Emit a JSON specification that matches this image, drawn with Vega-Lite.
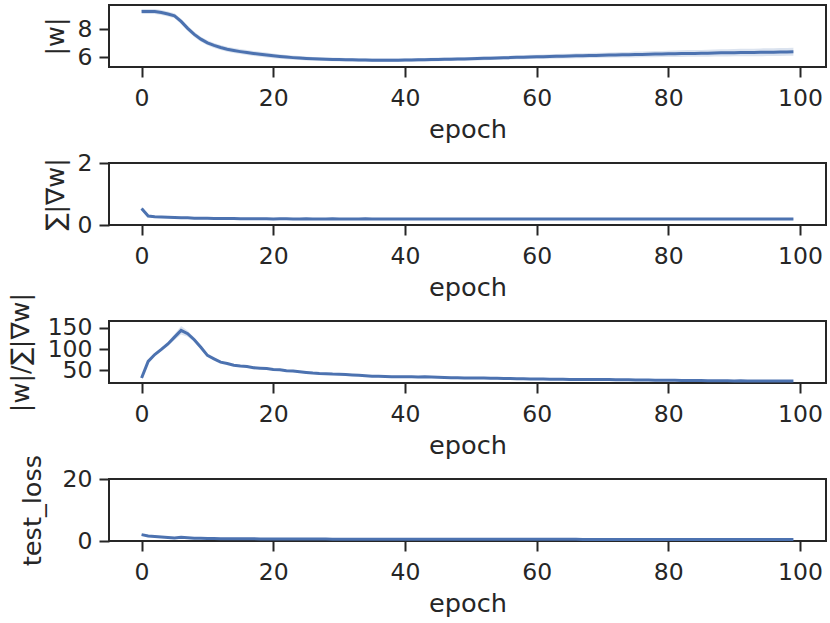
{
  "$schema": "https://vega.github.io/schema/vega-lite/v6.json",
  "background": "white",
  "padding": {"left": 6, "top": 4, "right": 4, "bottom": 4},
  "bounds": "flush",
  "spacing": 96,
  "data": {
    "values": [
      {"epoch": 0, "w": 9.25, "wl": 9.07, "wh": 9.43, "g": 0.53, "gl": 0.49, "gh": 0.57, "r": 31.8, "rl": 29.8, "rh": 33.8, "t": 2.05, "tl": 1.85, "th": 2.25},
      {"epoch": 1, "w": 9.26, "wl": 9.08, "wh": 9.44, "g": 0.29, "gl": 0.27, "gh": 0.31, "r": 71, "rl": 68, "rh": 74, "t": 1.6, "tl": 1.45, "th": 1.75},
      {"epoch": 2, "w": 9.25, "wl": 9.07, "wh": 9.43, "g": 0.27, "gl": 0.25, "gh": 0.29, "r": 87, "rl": 84, "rh": 90, "t": 1.45, "tl": 1.3, "th": 1.6},
      {"epoch": 3, "w": 9.18, "wl": 9.0, "wh": 9.36, "g": 0.26, "gl": 0.24, "gh": 0.28, "r": 99, "rl": 95, "rh": 103, "t": 1.3, "tl": 1.15, "th": 1.45},
      {"epoch": 4, "w": 9.08, "wl": 8.9, "wh": 9.26, "g": 0.25, "gl": 0.23, "gh": 0.27, "r": 112, "rl": 107, "rh": 117, "t": 1.15, "tl": 1.0, "th": 1.3},
      {"epoch": 5, "w": 8.95, "wl": 8.77, "wh": 9.13, "g": 0.24, "gl": 0.22, "gh": 0.26, "r": 128, "rl": 121, "rh": 135, "t": 1.0, "tl": 0.85, "th": 1.15},
      {"epoch": 6, "w": 8.55, "wl": 8.37, "wh": 8.73, "g": 0.23, "gl": 0.21, "gh": 0.25, "r": 144, "rl": 134, "rh": 154, "t": 1.2, "tl": 1.05, "th": 1.35},
      {"epoch": 7, "w": 8.05, "wl": 7.87, "wh": 8.23, "g": 0.23, "gl": 0.21, "gh": 0.25, "r": 136, "rl": 129, "rh": 143, "t": 1.05, "tl": 0.9, "th": 1.2},
      {"epoch": 8, "w": 7.62, "wl": 7.44, "wh": 7.8, "g": 0.22, "gl": 0.2, "gh": 0.24, "r": 122, "rl": 117, "rh": 127, "t": 0.9, "tl": 0.78, "th": 1.02},
      {"epoch": 9, "w": 7.28, "wl": 7.1, "wh": 7.46, "g": 0.22, "gl": 0.2, "gh": 0.24, "r": 104, "rl": 100, "rh": 108, "t": 0.85, "tl": 0.73, "th": 0.97},
      {"epoch": 10, "w": 7.02, "wl": 6.84, "wh": 7.2, "g": 0.22, "gl": 0.2, "gh": 0.24, "r": 85, "rl": 82, "rh": 88, "t": 0.8, "tl": 0.7, "th": 0.9},
      {"epoch": 11, "w": 6.83, "wl": 6.65, "wh": 7.01, "g": 0.21, "gl": 0.19, "gh": 0.23, "r": 77, "rl": 75, "rh": 79, "t": 0.78, "tl": 0.68, "th": 0.88},
      {"epoch": 12, "w": 6.68, "wl": 6.5, "wh": 6.86, "g": 0.21, "gl": 0.19, "gh": 0.23, "r": 69, "rl": 67, "rh": 71, "t": 0.76, "tl": 0.66, "th": 0.86},
      {"epoch": 13, "w": 6.56, "wl": 6.38, "wh": 6.74, "g": 0.21, "gl": 0.19, "gh": 0.23, "r": 66, "rl": 64, "rh": 68, "t": 0.74, "tl": 0.64, "th": 0.84},
      {"epoch": 14, "w": 6.47, "wl": 6.29, "wh": 6.65, "g": 0.21, "gl": 0.19, "gh": 0.23, "r": 62, "rl": 60, "rh": 64, "t": 0.72, "tl": 0.62, "th": 0.82},
      {"epoch": 15, "w": 6.39, "wl": 6.21, "wh": 6.57, "g": 0.2, "gl": 0.18, "gh": 0.22, "r": 60, "rl": 58, "rh": 62, "t": 0.71, "tl": 0.61, "th": 0.81},
      {"epoch": 16, "w": 6.32, "wl": 6.14, "wh": 6.5, "g": 0.2, "gl": 0.18, "gh": 0.22, "r": 59, "rl": 57, "rh": 61, "t": 0.7, "tl": 0.6, "th": 0.8},
      {"epoch": 17, "w": 6.26, "wl": 6.08, "wh": 6.44, "g": 0.2, "gl": 0.18, "gh": 0.22, "r": 56, "rl": 54, "rh": 58, "t": 0.69, "tl": 0.59, "th": 0.79},
      {"epoch": 18, "w": 6.2, "wl": 6.02, "wh": 6.38, "g": 0.2, "gl": 0.18, "gh": 0.22, "r": 55, "rl": 53, "rh": 57, "t": 0.68, "tl": 0.58, "th": 0.78},
      {"epoch": 19, "w": 6.14, "wl": 5.96, "wh": 6.32, "g": 0.2, "gl": 0.18, "gh": 0.22, "r": 54, "rl": 52, "rh": 56, "t": 0.67, "tl": 0.57, "th": 0.77},
      {"epoch": 20, "w": 6.09, "wl": 5.92, "wh": 6.26, "g": 0.19, "gl": 0.17, "gh": 0.21, "r": 52, "rl": 50, "rh": 54, "t": 0.66, "tl": 0.56, "th": 0.76},
      {"epoch": 21, "w": 6.04, "wl": 5.88, "wh": 6.2, "g": 0.2, "gl": 0.18, "gh": 0.22, "r": 51, "rl": 49.5, "rh": 52.5, "t": 0.65, "tl": 0.55, "th": 0.75},
      {"epoch": 22, "w": 6.0, "wl": 5.85, "wh": 6.15, "g": 0.2, "gl": 0.18, "gh": 0.22, "r": 49, "rl": 47.5, "rh": 50.5, "t": 0.64, "tl": 0.54, "th": 0.74},
      {"epoch": 23, "w": 5.96, "wl": 5.81, "wh": 6.11, "g": 0.19, "gl": 0.17, "gh": 0.21, "r": 48, "rl": 46.5, "rh": 49.5, "t": 0.64, "tl": 0.54, "th": 0.74},
      {"epoch": 24, "w": 5.93, "wl": 5.79, "wh": 6.07, "g": 0.19, "gl": 0.17, "gh": 0.21, "r": 46.5, "rl": 45, "rh": 48, "t": 0.63, "tl": 0.53, "th": 0.73},
      {"epoch": 25, "w": 5.9, "wl": 5.76, "wh": 6.04, "g": 0.2, "gl": 0.18, "gh": 0.22, "r": 45, "rl": 43.5, "rh": 46.5, "t": 0.62, "tl": 0.52, "th": 0.72},
      {"epoch": 26, "w": 5.88, "wl": 5.75, "wh": 6.01, "g": 0.19, "gl": 0.17, "gh": 0.21, "r": 43.5, "rl": 42, "rh": 45, "t": 0.62, "tl": 0.52, "th": 0.72},
      {"epoch": 27, "w": 5.86, "wl": 5.73, "wh": 5.99, "g": 0.19, "gl": 0.17, "gh": 0.21, "r": 42.5, "rl": 41, "rh": 44, "t": 0.61, "tl": 0.51, "th": 0.71},
      {"epoch": 28, "w": 5.84, "wl": 5.71, "wh": 5.97, "g": 0.19, "gl": 0.17, "gh": 0.21, "r": 42, "rl": 40.5, "rh": 43.5, "t": 0.61, "tl": 0.51, "th": 0.71},
      {"epoch": 29, "w": 5.83, "wl": 5.7, "wh": 5.96, "g": 0.2, "gl": 0.18, "gh": 0.22, "r": 41, "rl": 39.5, "rh": 42.5, "t": 0.6, "tl": 0.5, "th": 0.7},
      {"epoch": 30, "w": 5.82, "wl": 5.69, "wh": 5.95, "g": 0.19, "gl": 0.17, "gh": 0.21, "r": 40.5, "rl": 39, "rh": 42, "t": 0.6, "tl": 0.5, "th": 0.7},
      {"epoch": 31, "w": 5.81, "wl": 5.68, "wh": 5.94, "g": 0.19, "gl": 0.17, "gh": 0.21, "r": 40, "rl": 38.5, "rh": 41.5, "t": 0.6, "tl": 0.5, "th": 0.7},
      {"epoch": 32, "w": 5.8, "wl": 5.67, "wh": 5.93, "g": 0.19, "gl": 0.17, "gh": 0.21, "r": 39, "rl": 37.5, "rh": 40.5, "t": 0.59, "tl": 0.49, "th": 0.69},
      {"epoch": 33, "w": 5.79, "wl": 5.66, "wh": 5.92, "g": 0.19, "gl": 0.17, "gh": 0.21, "r": 38, "rl": 36.5, "rh": 39.5, "t": 0.59, "tl": 0.49, "th": 0.69},
      {"epoch": 34, "w": 5.79, "wl": 5.66, "wh": 5.92, "g": 0.2, "gl": 0.18, "gh": 0.22, "r": 37, "rl": 35.5, "rh": 38.5, "t": 0.59, "tl": 0.49, "th": 0.69},
      {"epoch": 35, "w": 5.78, "wl": 5.65, "wh": 5.91, "g": 0.19, "gl": 0.17, "gh": 0.21, "r": 36, "rl": 34.5, "rh": 37.5, "t": 0.58, "tl": 0.48, "th": 0.68},
      {"epoch": 36, "w": 5.78, "wl": 5.65, "wh": 5.91, "g": 0.19, "gl": 0.17, "gh": 0.21, "r": 36, "rl": 34.5, "rh": 37.5, "t": 0.58, "tl": 0.48, "th": 0.68},
      {"epoch": 37, "w": 5.78, "wl": 5.65, "wh": 5.91, "g": 0.19, "gl": 0.17, "gh": 0.21, "r": 35.5, "rl": 34, "rh": 37, "t": 0.58, "tl": 0.48, "th": 0.68},
      {"epoch": 38, "w": 5.78, "wl": 5.65, "wh": 5.91, "g": 0.19, "gl": 0.17, "gh": 0.21, "r": 35, "rl": 33.5, "rh": 36.5, "t": 0.58, "tl": 0.48, "th": 0.68},
      {"epoch": 39, "w": 5.78, "wl": 5.65, "wh": 5.91, "g": 0.19, "gl": 0.17, "gh": 0.21, "r": 35, "rl": 33.5, "rh": 36.5, "t": 0.57, "tl": 0.47, "th": 0.67},
      {"epoch": 40, "w": 5.79, "wl": 5.66, "wh": 5.92, "g": 0.19, "gl": 0.17, "gh": 0.21, "r": 34.5, "rl": 33, "rh": 36, "t": 0.57, "tl": 0.47, "th": 0.67},
      {"epoch": 41, "w": 5.79, "wl": 5.66, "wh": 5.92, "g": 0.19, "gl": 0.17, "gh": 0.21, "r": 34.5, "rl": 33, "rh": 36, "t": 0.57, "tl": 0.47, "th": 0.67},
      {"epoch": 42, "w": 5.8, "wl": 5.67, "wh": 5.93, "g": 0.19, "gl": 0.17, "gh": 0.21, "r": 34, "rl": 32.5, "rh": 35.5, "t": 0.57, "tl": 0.47, "th": 0.67},
      {"epoch": 43, "w": 5.81, "wl": 5.68, "wh": 5.94, "g": 0.19, "gl": 0.17, "gh": 0.21, "r": 34.5, "rl": 33, "rh": 36, "t": 0.56, "tl": 0.46, "th": 0.66},
      {"epoch": 44, "w": 5.82, "wl": 5.69, "wh": 5.95, "g": 0.19, "gl": 0.17, "gh": 0.21, "r": 34, "rl": 32.5, "rh": 35.5, "t": 0.56, "tl": 0.46, "th": 0.66},
      {"epoch": 45, "w": 5.83, "wl": 5.7, "wh": 5.96, "g": 0.19, "gl": 0.17, "gh": 0.21, "r": 33.5, "rl": 32, "rh": 35, "t": 0.56, "tl": 0.46, "th": 0.66},
      {"epoch": 46, "w": 5.84, "wl": 5.71, "wh": 5.97, "g": 0.19, "gl": 0.17, "gh": 0.21, "r": 33, "rl": 31.5, "rh": 34.5, "t": 0.56, "tl": 0.46, "th": 0.66},
      {"epoch": 47, "w": 5.85, "wl": 5.72, "wh": 5.98, "g": 0.19, "gl": 0.17, "gh": 0.21, "r": 32.5, "rl": 31, "rh": 34, "t": 0.56, "tl": 0.46, "th": 0.66},
      {"epoch": 48, "w": 5.86, "wl": 5.73, "wh": 5.99, "g": 0.19, "gl": 0.17, "gh": 0.21, "r": 32.5, "rl": 31, "rh": 34, "t": 0.55, "tl": 0.45, "th": 0.65},
      {"epoch": 49, "w": 5.87, "wl": 5.74, "wh": 6.0, "g": 0.19, "gl": 0.17, "gh": 0.21, "r": 32, "rl": 30.5, "rh": 33.5, "t": 0.55, "tl": 0.45, "th": 0.65},
      {"epoch": 50, "w": 5.88, "wl": 5.75, "wh": 6.01, "g": 0.19, "gl": 0.17, "gh": 0.21, "r": 32, "rl": 30.5, "rh": 33.5, "t": 0.55, "tl": 0.45, "th": 0.65},
      {"epoch": 51, "w": 5.89, "wl": 5.76, "wh": 6.02, "g": 0.19, "gl": 0.17, "gh": 0.21, "r": 31.5, "rl": 30, "rh": 33, "t": 0.55, "tl": 0.45, "th": 0.65},
      {"epoch": 52, "w": 5.91, "wl": 5.78, "wh": 6.04, "g": 0.19, "gl": 0.17, "gh": 0.21, "r": 31.5, "rl": 30, "rh": 33, "t": 0.55, "tl": 0.45, "th": 0.65},
      {"epoch": 53, "w": 5.92, "wl": 5.79, "wh": 6.05, "g": 0.19, "gl": 0.17, "gh": 0.21, "r": 31, "rl": 29.5, "rh": 32.5, "t": 0.55, "tl": 0.45, "th": 0.65},
      {"epoch": 54, "w": 5.93, "wl": 5.8, "wh": 6.06, "g": 0.19, "gl": 0.17, "gh": 0.21, "r": 31, "rl": 29.5, "rh": 32.5, "t": 0.54, "tl": 0.44, "th": 0.64},
      {"epoch": 55, "w": 5.95, "wl": 5.82, "wh": 6.08, "g": 0.19, "gl": 0.17, "gh": 0.21, "r": 30.5, "rl": 29, "rh": 32, "t": 0.54, "tl": 0.44, "th": 0.64},
      {"epoch": 56, "w": 5.96, "wl": 5.83, "wh": 6.09, "g": 0.19, "gl": 0.17, "gh": 0.21, "r": 30.5, "rl": 29, "rh": 32, "t": 0.54, "tl": 0.44, "th": 0.64},
      {"epoch": 57, "w": 5.98, "wl": 5.84, "wh": 6.12, "g": 0.19, "gl": 0.17, "gh": 0.21, "r": 30, "rl": 28.5, "rh": 31.5, "t": 0.54, "tl": 0.44, "th": 0.64},
      {"epoch": 58, "w": 5.99, "wl": 5.85, "wh": 6.13, "g": 0.19, "gl": 0.17, "gh": 0.21, "r": 30, "rl": 28.5, "rh": 31.5, "t": 0.54, "tl": 0.44, "th": 0.64},
      {"epoch": 59, "w": 6.01, "wl": 5.86, "wh": 6.16, "g": 0.19, "gl": 0.17, "gh": 0.21, "r": 29.5, "rl": 28, "rh": 31, "t": 0.54, "tl": 0.44, "th": 0.64},
      {"epoch": 60, "w": 6.02, "wl": 5.87, "wh": 6.17, "g": 0.19, "gl": 0.17, "gh": 0.21, "r": 29.5, "rl": 28, "rh": 31, "t": 0.53, "tl": 0.43, "th": 0.63},
      {"epoch": 61, "w": 6.03, "wl": 5.87, "wh": 6.19, "g": 0.19, "gl": 0.17, "gh": 0.21, "r": 29.5, "rl": 28, "rh": 31, "t": 0.53, "tl": 0.43, "th": 0.63},
      {"epoch": 62, "w": 6.04, "wl": 5.88, "wh": 6.2, "g": 0.19, "gl": 0.17, "gh": 0.21, "r": 29, "rl": 27.5, "rh": 30.5, "t": 0.53, "tl": 0.43, "th": 0.63},
      {"epoch": 63, "w": 6.05, "wl": 5.88, "wh": 6.22, "g": 0.19, "gl": 0.17, "gh": 0.21, "r": 29, "rl": 27.5, "rh": 30.5, "t": 0.53, "tl": 0.43, "th": 0.63},
      {"epoch": 64, "w": 6.06, "wl": 5.89, "wh": 6.23, "g": 0.19, "gl": 0.17, "gh": 0.21, "r": 29, "rl": 27.5, "rh": 30.5, "t": 0.53, "tl": 0.43, "th": 0.63},
      {"epoch": 65, "w": 6.07, "wl": 5.9, "wh": 6.24, "g": 0.19, "gl": 0.17, "gh": 0.21, "r": 28.5, "rl": 27, "rh": 30, "t": 0.53, "tl": 0.43, "th": 0.63},
      {"epoch": 66, "w": 6.09, "wl": 5.91, "wh": 6.27, "g": 0.19, "gl": 0.17, "gh": 0.21, "r": 28.5, "rl": 27, "rh": 30, "t": 0.53, "tl": 0.43, "th": 0.63},
      {"epoch": 67, "w": 6.1, "wl": 5.92, "wh": 6.28, "g": 0.19, "gl": 0.17, "gh": 0.21, "r": 28.5, "rl": 27, "rh": 30, "t": 0.52, "tl": 0.42, "th": 0.62},
      {"epoch": 68, "w": 6.11, "wl": 5.93, "wh": 6.29, "g": 0.19, "gl": 0.17, "gh": 0.21, "r": 28, "rl": 26.5, "rh": 29.5, "t": 0.52, "tl": 0.42, "th": 0.62},
      {"epoch": 69, "w": 6.12, "wl": 5.94, "wh": 6.3, "g": 0.19, "gl": 0.17, "gh": 0.21, "r": 28, "rl": 26.5, "rh": 29.5, "t": 0.52, "tl": 0.42, "th": 0.62},
      {"epoch": 70, "w": 6.13, "wl": 5.95, "wh": 6.31, "g": 0.19, "gl": 0.17, "gh": 0.21, "r": 28, "rl": 26.5, "rh": 29.5, "t": 0.52, "tl": 0.42, "th": 0.62},
      {"epoch": 71, "w": 6.14, "wl": 5.95, "wh": 6.33, "g": 0.19, "gl": 0.17, "gh": 0.21, "r": 28, "rl": 26.5, "rh": 29.5, "t": 0.52, "tl": 0.42, "th": 0.62},
      {"epoch": 72, "w": 6.15, "wl": 5.96, "wh": 6.34, "g": 0.19, "gl": 0.17, "gh": 0.21, "r": 27.5, "rl": 26, "rh": 29, "t": 0.52, "tl": 0.42, "th": 0.62},
      {"epoch": 73, "w": 6.16, "wl": 5.96, "wh": 6.36, "g": 0.19, "gl": 0.17, "gh": 0.21, "r": 27.5, "rl": 26, "rh": 29, "t": 0.52, "tl": 0.42, "th": 0.62},
      {"epoch": 74, "w": 6.17, "wl": 5.97, "wh": 6.37, "g": 0.19, "gl": 0.17, "gh": 0.21, "r": 27.5, "rl": 26, "rh": 29, "t": 0.52, "tl": 0.42, "th": 0.62},
      {"epoch": 75, "w": 6.18, "wl": 5.97, "wh": 6.39, "g": 0.19, "gl": 0.17, "gh": 0.21, "r": 27, "rl": 25.5, "rh": 28.5, "t": 0.51, "tl": 0.41, "th": 0.61},
      {"epoch": 76, "w": 6.19, "wl": 5.98, "wh": 6.4, "g": 0.19, "gl": 0.17, "gh": 0.21, "r": 27, "rl": 25.5, "rh": 28.5, "t": 0.51, "tl": 0.41, "th": 0.61},
      {"epoch": 77, "w": 6.2, "wl": 5.98, "wh": 6.42, "g": 0.19, "gl": 0.17, "gh": 0.21, "r": 27, "rl": 25.5, "rh": 28.5, "t": 0.51, "tl": 0.41, "th": 0.61},
      {"epoch": 78, "w": 6.21, "wl": 5.99, "wh": 6.43, "g": 0.19, "gl": 0.17, "gh": 0.21, "r": 26.5, "rl": 25, "rh": 28, "t": 0.51, "tl": 0.41, "th": 0.61},
      {"epoch": 79, "w": 6.22, "wl": 6.0, "wh": 6.44, "g": 0.19, "gl": 0.17, "gh": 0.21, "r": 26.5, "rl": 25, "rh": 28, "t": 0.51, "tl": 0.41, "th": 0.61},
      {"epoch": 80, "w": 6.23, "wl": 6.0, "wh": 6.46, "g": 0.19, "gl": 0.17, "gh": 0.21, "r": 26.5, "rl": 25, "rh": 28, "t": 0.51, "tl": 0.41, "th": 0.61},
      {"epoch": 81, "w": 6.24, "wl": 6.01, "wh": 6.47, "g": 0.19, "gl": 0.17, "gh": 0.21, "r": 26.5, "rl": 25, "rh": 28, "t": 0.51, "tl": 0.41, "th": 0.61},
      {"epoch": 82, "w": 6.25, "wl": 6.01, "wh": 6.49, "g": 0.19, "gl": 0.17, "gh": 0.21, "r": 26, "rl": 24.5, "rh": 27.5, "t": 0.51, "tl": 0.41, "th": 0.61},
      {"epoch": 83, "w": 6.26, "wl": 6.02, "wh": 6.5, "g": 0.19, "gl": 0.17, "gh": 0.21, "r": 26, "rl": 24.5, "rh": 27.5, "t": 0.51, "tl": 0.41, "th": 0.61},
      {"epoch": 84, "w": 6.26, "wl": 6.02, "wh": 6.5, "g": 0.19, "gl": 0.17, "gh": 0.21, "r": 26, "rl": 24.5, "rh": 27.5, "t": 0.5, "tl": 0.4, "th": 0.6},
      {"epoch": 85, "w": 6.27, "wl": 6.03, "wh": 6.51, "g": 0.19, "gl": 0.17, "gh": 0.21, "r": 26, "rl": 24.5, "rh": 27.5, "t": 0.5, "tl": 0.4, "th": 0.6},
      {"epoch": 86, "w": 6.28, "wl": 6.03, "wh": 6.53, "g": 0.19, "gl": 0.17, "gh": 0.21, "r": 25.5, "rl": 24, "rh": 27, "t": 0.5, "tl": 0.4, "th": 0.6},
      {"epoch": 87, "w": 6.29, "wl": 6.04, "wh": 6.54, "g": 0.19, "gl": 0.17, "gh": 0.21, "r": 25.5, "rl": 24, "rh": 27, "t": 0.5, "tl": 0.4, "th": 0.6},
      {"epoch": 88, "w": 6.3, "wl": 6.04, "wh": 6.56, "g": 0.19, "gl": 0.17, "gh": 0.21, "r": 25.5, "rl": 24, "rh": 27, "t": 0.5, "tl": 0.4, "th": 0.6},
      {"epoch": 89, "w": 6.3, "wl": 6.04, "wh": 6.56, "g": 0.19, "gl": 0.17, "gh": 0.21, "r": 25.5, "rl": 24, "rh": 27, "t": 0.5, "tl": 0.4, "th": 0.6},
      {"epoch": 90, "w": 6.31, "wl": 6.05, "wh": 6.57, "g": 0.19, "gl": 0.17, "gh": 0.21, "r": 25, "rl": 23.5, "rh": 26.5, "t": 0.5, "tl": 0.4, "th": 0.6},
      {"epoch": 91, "w": 6.32, "wl": 6.05, "wh": 6.59, "g": 0.19, "gl": 0.17, "gh": 0.21, "r": 25.5, "rl": 24, "rh": 27, "t": 0.5, "tl": 0.4, "th": 0.6},
      {"epoch": 92, "w": 6.33, "wl": 6.06, "wh": 6.6, "g": 0.19, "gl": 0.17, "gh": 0.21, "r": 25, "rl": 23.5, "rh": 26.5, "t": 0.5, "tl": 0.4, "th": 0.6},
      {"epoch": 93, "w": 6.33, "wl": 6.06, "wh": 6.6, "g": 0.19, "gl": 0.17, "gh": 0.21, "r": 25, "rl": 23.5, "rh": 26.5, "t": 0.5, "tl": 0.4, "th": 0.6},
      {"epoch": 94, "w": 6.34, "wl": 6.06, "wh": 6.62, "g": 0.19, "gl": 0.17, "gh": 0.21, "r": 24.5, "rl": 23, "rh": 26, "t": 0.49, "tl": 0.39, "th": 0.59},
      {"epoch": 95, "w": 6.35, "wl": 6.07, "wh": 6.63, "g": 0.19, "gl": 0.17, "gh": 0.21, "r": 25, "rl": 23.5, "rh": 26.5, "t": 0.49, "tl": 0.39, "th": 0.59},
      {"epoch": 96, "w": 6.35, "wl": 6.07, "wh": 6.63, "g": 0.19, "gl": 0.17, "gh": 0.21, "r": 24.5, "rl": 23, "rh": 26, "t": 0.49, "tl": 0.39, "th": 0.59},
      {"epoch": 97, "w": 6.36, "wl": 6.08, "wh": 6.64, "g": 0.19, "gl": 0.17, "gh": 0.21, "r": 24.5, "rl": 23, "rh": 26, "t": 0.49, "tl": 0.39, "th": 0.59},
      {"epoch": 98, "w": 6.37, "wl": 6.09, "wh": 6.65, "g": 0.19, "gl": 0.17, "gh": 0.21, "r": 24.5, "rl": 23, "rh": 26, "t": 0.49, "tl": 0.39, "th": 0.59},
      {"epoch": 99, "w": 6.38, "wl": 6.1, "wh": 6.66, "g": 0.19, "gl": 0.17, "gh": 0.21, "r": 24.5, "rl": 23, "rh": 26, "t": 0.49, "tl": 0.39, "th": 0.59}
    ]
  },
  "vconcat": [
    {
      "width": 717,
      "height": 62,
      "encoding": {
        "x": {"field": "epoch", "type": "quantitative", "title": "epoch",
              "scale": {"domain": [-4.95, 103.95], "nice": false, "zero": false},
              "axis": {"values": [0, 20, 40, 60, 80, 100]}}
      },
      "layer": [
        {
          "mark": {"type": "area", "color": "#4c72b0", "opacity": 0.2},
          "encoding": {
            "y": {"field": "wl", "type": "quantitative", "title": "|w|",
                  "scale": {"domain": [5.29, 9.72], "nice": false, "zero": false},
                  "axis": {"values": [6, 8], "titleX": -41}},
            "y2": {"field": "wh"}
          }
        },
        {
          "mark": {"type": "line", "color": "#4c72b0", "strokeWidth": 3},
          "encoding": {"y": {"field": "w", "type": "quantitative", "title": "|w|"}}
        }
      ]
    },
    {
      "width": 717,
      "height": 62,
      "encoding": {
        "x": {"field": "epoch", "type": "quantitative", "title": "epoch",
              "scale": {"domain": [-4.95, 103.95], "nice": false, "zero": false},
              "axis": {"values": [0, 20, 40, 60, 80, 100]}}
      },
      "layer": [
        {
          "mark": {"type": "area", "color": "#4c72b0", "opacity": 0.2},
          "encoding": {
            "y": {"field": "gl", "type": "quantitative", "title": "∑|∇w|",
                  "scale": {"domain": [0, 2], "nice": false},
                  "axis": {"values": [0, 2], "titleX": -41}},
            "y2": {"field": "gh"}
          }
        },
        {
          "mark": {"type": "line", "color": "#4c72b0", "strokeWidth": 3},
          "encoding": {"y": {"field": "g", "type": "quantitative", "title": "∑|∇w|"}}
        }
      ]
    },
    {
      "width": 717,
      "height": 62,
      "encoding": {
        "x": {"field": "epoch", "type": "quantitative", "title": "epoch",
              "scale": {"domain": [-4.95, 103.95], "nice": false, "zero": false},
              "axis": {"values": [0, 20, 40, 60, 80, 100]}}
      },
      "layer": [
        {
          "mark": {"type": "area", "color": "#4c72b0", "opacity": 0.2},
          "encoding": {
            "y": {"field": "rl", "type": "quantitative", "title": "|w|/∑|∇w|",
                  "scale": {"domain": [20, 166], "nice": false, "zero": false},
                  "axis": {"values": [50, 100, 150], "titleX": -76, "labelOverlap": false, "labelSeparation": -10}},
            "y2": {"field": "rh"}
          }
        },
        {
          "mark": {"type": "line", "color": "#4c72b0", "strokeWidth": 3},
          "encoding": {"y": {"field": "r", "type": "quantitative", "title": "|w|/∑|∇w|",
                             "axis": {"values": [50, 100, 150], "titleX": -76, "labelOverlap": false, "labelSeparation": -10}}}
        }
      ]
    },
    {
      "width": 717,
      "height": 62,
      "encoding": {
        "x": {"field": "epoch", "type": "quantitative", "title": "epoch",
              "scale": {"domain": [-4.95, 103.95], "nice": false, "zero": false},
              "axis": {"values": [0, 20, 40, 60, 80, 100]}}
      },
      "layer": [
        {
          "mark": {"type": "area", "color": "#4c72b0", "opacity": 0.2},
          "encoding": {
            "y": {"field": "tl", "type": "quantitative", "title": "test_loss",
                  "scale": {"domain": [0, 20], "nice": false},
                  "axis": {"values": [0, 20], "titleX": -64}},
            "y2": {"field": "th"}
          }
        },
        {
          "mark": {"type": "line", "color": "#4c72b0", "strokeWidth": 3},
          "encoding": {"y": {"field": "t", "type": "quantitative", "title": "test_loss"}}
        }
      ]
    }
  ],
  "config": {
    "font": "DejaVu Sans",
    "view": {"stroke": "#262626", "strokeWidth": 2},
    "axis": {
      "grid": false,
      "domain": false,
      "tickColor": "#262626",
      "tickSize": 10,
      "tickWidth": 2,
      "labelFont": "DejaVu Sans",
      "titleFont": "DejaVu Sans",
      "labelFontSize": 23.5,
      "titleFontSize": 25.6,
      "titleFontWeight": "normal",
      "labelColor": "#262626",
      "titleColor": "#262626",
      "labelOverlap": false
    },
    "axisX": {"labelPadding": 9, "titlePadding": 8, "labelFlush": false},
    "axisY": {"labelPadding": 7, "labelOverlap": false}
  }
}
